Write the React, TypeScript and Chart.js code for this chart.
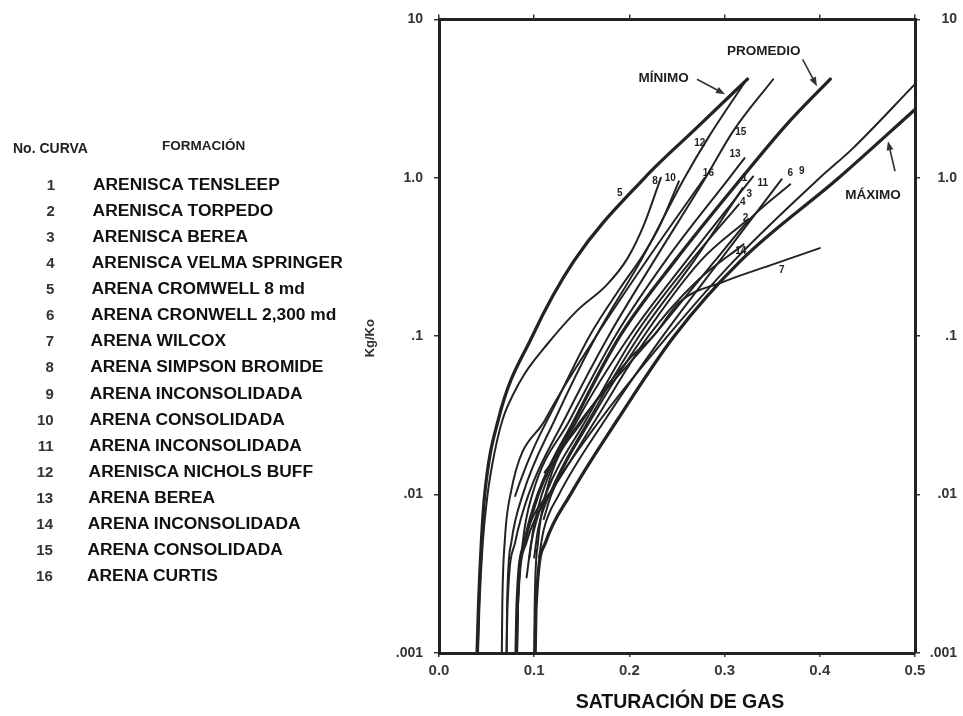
import { useEffect, useRef } from "react";
import { Chart, registerables } from "chart.js";

Chart.register(...registerables);

type Pt = [number, number];

// Axis ticks
const xTickValues = [0, 0.1, 0.2, 0.3, 0.4, 0.5];
const yTickValues = [0.001, 0.01, 0.1, 1, 10];
const yTickLabels = [".001", ".01", ".1", "1.0", "10"];

// Envelope curves (gas saturation, Kg/Ko)
const minimo: Pt[] = [[0.040, 0.001], [0.0415, 0.002], [0.0445, 0.005], [0.048, 0.01], [0.0625, 0.03], [0.098, 0.1], [0.142, 0.3], [0.216, 1.0], [0.27, 2.05], [0.324, 4.2]];
const promedio: Pt[] = [[0.081, 0.001], [0.082, 0.002], [0.09, 0.005], [0.104, 0.01], [0.143, 0.03], [0.19, 0.1], [0.248, 0.3], [0.318, 1.0], [0.366, 2.2], [0.411, 4.2]];
const maximo: Pt[] = [[0.101, 0.001], [0.102, 0.002], [0.112, 0.005], [0.138, 0.01], [0.188, 0.03], [0.247, 0.1], [0.317, 0.3], [0.42, 1.0], [0.5, 2.7]];

// Individual formation curves
const curve1: Pt[] = [[0.095, 0.004], [0.099, 0.006], [0.108, 0.01], [0.146, 0.03], [0.2, 0.1], [0.26, 0.3], [0.33, 1.02]];
const curve2: Pt[] = [[0.11, 0.007], [0.118, 0.01], [0.16, 0.03], [0.215, 0.1], [0.275, 0.3], [0.325, 0.55]];
const curve3: Pt[] = [[0.1, 0.004], [0.104, 0.006], [0.116, 0.01], [0.158, 0.03], [0.21, 0.1], [0.268, 0.3], [0.319, 0.86]];
const curve4: Pt[] = [[0.092, 0.003], [0.097, 0.005], [0.112, 0.01], [0.155, 0.03], [0.205, 0.1], [0.265, 0.3], [0.315, 0.68]];
const curve6: Pt[] = [[0.111, 0.0138], [0.125, 0.018], [0.15, 0.03], [0.225, 0.1], [0.29, 0.3], [0.328, 0.56], [0.369, 0.91]];
const curve7: Pt[] = [[0.1, 0.001], [0.1005, 0.002], [0.104, 0.005], [0.112, 0.01], [0.152, 0.03], [0.2, 0.072], [0.225, 0.1], [0.253, 0.165], [0.30, 0.222], [0.35, 0.283], [0.40, 0.36]];
const curve8: Pt[] = [[0.041, 0.001], [0.0425, 0.002], [0.046, 0.005], [0.051, 0.01], [0.058, 0.018], [0.067, 0.03], [0.078, 0.043], [0.09, 0.058], [0.113, 0.088], [0.145, 0.145], [0.176, 0.21], [0.198, 0.31], [0.215, 0.5], [0.233, 1.0]];
const curve9: Pt[] = [[0.082, 0.001], [0.083, 0.002], [0.092, 0.005], [0.116, 0.01], [0.17, 0.03], [0.24, 0.1], [0.31, 0.3], [0.40, 1.0], [0.435, 1.54], [0.5, 3.9]];
const curve10: Pt[] = [[0.08, 0.0098], [0.085, 0.012], [0.1, 0.02], [0.12, 0.035], [0.158, 0.1], [0.19, 0.2], [0.215, 0.33], [0.232, 0.5], [0.252, 0.95]];
const curve11: Pt[] = [[0.105, 0.004], [0.11, 0.006], [0.126, 0.01], [0.175, 0.03], [0.235, 0.1], [0.295, 0.3], [0.36, 0.98]];
const curve12: Pt[] = [[0.071, 0.001], [0.0715, 0.002], [0.076, 0.005], [0.088, 0.01], [0.122, 0.03], [0.165, 0.1], [0.212, 0.3], [0.258, 1.0], [0.283, 1.8], [0.321, 4.0]];
const curve13: Pt[] = [[0.082, 0.001], [0.083, 0.002], [0.088, 0.005], [0.098, 0.01], [0.138, 0.03], [0.185, 0.1], [0.238, 0.3], [0.305, 1.0], [0.321, 1.33]];
const curve14: Pt[] = [[0.088, 0.005], [0.1, 0.0075], [0.12, 0.011], [0.165, 0.03], [0.22, 0.1], [0.27, 0.22], [0.32, 0.38]];
const curve15: Pt[] = [[0.071, 0.001], [0.072, 0.002], [0.08, 0.005], [0.094, 0.01], [0.132, 0.03], [0.178, 0.1], [0.226, 0.3], [0.28, 1.0], [0.309, 1.97], [0.351, 4.19]];
const curve16: Pt[] = [[0.066, 0.001], [0.0665, 0.002], [0.069, 0.005], [0.075, 0.01], [0.112, 0.03], [0.165, 0.1], [0.218, 0.3], [0.279, 1.0]];

const thinCurves: Pt[][] = [curve1, curve2, curve3, curve4, curve6, curve7, curve8, curve9, curve10, curve11, curve12, curve13, curve14, curve15, curve16];
const thickCurves: Pt[][] = [minimo, promedio, maximo];

// Curve number tags placed on the plot (Sg, Kg/Ko)
const tagText = ["5", "8", "10", "12", "15", "16", "13", "1", "11", "6", "9", "3", "4", "2", "14", "7"];
const tagX = [0.190, 0.227, 0.243, 0.274, 0.317, 0.283, 0.311, 0.321, 0.340, 0.369, 0.381, 0.326, 0.319, 0.322, 0.317, 0.360];
const tagY = [0.80, 0.954, 0.996, 1.66, 1.94, 1.07, 1.41, 0.996, 0.927, 1.07, 1.10, 0.79, 0.70, 0.558, 0.346, 0.262];

// Envelope names and their pointer arrows
const envText = ["MÍNIMO", "PROMEDIO", "MÁXIMO"];
const envX = [0.236, 0.341, 0.456];
const envY = [4.25, 6.29, 0.77];
const arrowFrom: Pt[] = [[0.271, 4.19], [0.382, 5.6], [0.479, 1.10]];
const arrowTo: Pt[] = [[0.3004, 3.37], [0.397, 3.79], [0.4716, 1.70]];

// Legend table
const curveNumbers = ["1", "2", "3", "4", "5", "6", "7", "8", "9", "10", "11", "12", "13", "14", "15", "16"];
const formations = [
  "ARENISCA TENSLEEP",
  "ARENISCA TORPEDO",
  "ARENISCA BEREA",
  "ARENISCA VELMA SPRINGER",
  "ARENA CROMWELL 8 md",
  "ARENA CRONWELL 2,300 md",
  "ARENA WILCOX",
  "ARENA SIMPSON BROMIDE",
  "ARENA INCONSOLIDADA",
  "ARENA CONSOLIDADA",
  "ARENA INCONSOLIDADA",
  "ARENISCA NICHOLS BUFF",
  "ARENA BEREA",
  "ARENA INCONSOLIDADA",
  "ARENA CONSOLIDADA",
  "ARENA CURTIS",
];

const FONT = "'Liberation Sans', Arial, Helvetica, sans-serif";
const INK = "#232323";

const annotations = {
  id: "annotations",
  afterDatasetsDraw(chart: any) {
    const { ctx, chartArea } = chart;
    const xs = chart.scales.x;
    const ys = chart.scales.y;
    const px = (v: number) => xs.getPixelForValue(v);
    const py = (v: number) => ys.getPixelForValue(v);
    ctx.save();
    ctx.fillStyle = "#1e1e1e";
    ctx.textAlign = "center";
    ctx.textBaseline = "middle";

    ctx.font = `bold 10px ${FONT}`;
    tagText.forEach((t, i) => ctx.fillText(t, px(tagX[i]), py(tagY[i])));

    ctx.font = `bold 13.5px ${FONT}`;
    envText.forEach((t, i) => ctx.fillText(t, px(envX[i]), py(envY[i])));

    ctx.strokeStyle = "#333";
    ctx.fillStyle = "#333";
    ctx.lineWidth = 1.6;
    arrowFrom.forEach((f, i) => {
      const x0 = px(f[0]), y0 = py(f[1]);
      const x1 = px(arrowTo[i][0]), y1 = py(arrowTo[i][1]);
      const a = Math.atan2(y1 - y0, x1 - x0);
      const len = 9, half = 3.5;
      ctx.beginPath();
      ctx.moveTo(x0, y0);
      ctx.lineTo(x1 - Math.cos(a) * len * 0.8, y1 - Math.sin(a) * len * 0.8);
      ctx.stroke();
      ctx.beginPath();
      ctx.moveTo(x1, y1);
      ctx.lineTo(x1 - Math.cos(a) * len - Math.sin(a) * half, y1 - Math.sin(a) * len + Math.cos(a) * half);
      ctx.lineTo(x1 - Math.cos(a) * len + Math.sin(a) * half, y1 - Math.sin(a) * len - Math.cos(a) * half);
      ctx.closePath();
      ctx.fill();
    });

    ctx.fillStyle = "#111";
    ctx.font = `bold 19.5px ${FONT}`;
    ctx.fillText("SATURACIÓN DE GAS", (chartArea.left + chartArea.right) / 2 + 3, chartArea.bottom + 50);

    ctx.fillStyle = "#333";
    ctx.font = `bold 13px ${FONT}`;
    ctx.translate(chartArea.left - 69, (chartArea.top + chartArea.bottom) / 2 + 2);
    ctx.rotate(-Math.PI / 2);
    ctx.fillText("Kg/Ko", 0, 0);
    ctx.restore();
  },
};

const yTickLabel = (value: number) => {
  const i = yTickValues.findIndex((v) => Math.abs(v - value) / v < 1e-6);
  return i >= 0 ? yTickLabels[i] : "";
};

export default function App() {
  const canvasRef = useRef<HTMLCanvasElement | null>(null);

  useEffect(() => {
    if (!canvasRef.current) return;
    const line = (pts: Pt[], width: number) => ({
      data: pts.map(([x, y]) => ({ x, y })),
      borderColor: INK,
      borderWidth: width,
      pointRadius: 0,
      fill: false,
      cubicInterpolationMode: "monotone" as const,
      borderCapStyle: "round" as const,
      borderJoinStyle: "round" as const,
    });
    const datasets = [
      ...thinCurves.map((c) => line(c, 2)),
      ...thickCurves.map((c) => line(c, 3.3)),
    ];

    const tickFont = { family: FONT, size: 14, weight: "bold" as const };
    const decadeTicks = (scale: any) => {
      scale.ticks = yTickValues.map((v) => ({ value: v }));
    };

    const chart = new Chart(canvasRef.current, {
      type: "line",
      data: { datasets },
      plugins: [annotations],
      options: {
        animation: false,
        responsive: false,
        events: [],
        layout: { padding: { left: 0, top: 0, bottom: 0, right: 6 } },
        plugins: { legend: { display: false }, tooltip: { enabled: false } },
        scales: {
          x: {
            type: "linear",
            position: "bottom",
            min: 0,
            max: 0.5,
            afterBuildTicks: (s: any) => {
              s.ticks = xTickValues.map((v) => ({ value: v }));
            },
            ticks: {
              callback: (v: any) => Number(v).toFixed(1),
              font: { family: FONT, size: 15, weight: "bold" },
              color: "#3a3a3a",
              padding: 5,
              maxRotation: 0,
            },
            grid: { drawOnChartArea: false, drawTicks: true, tickLength: 4, color: "#333", lineWidth: 1.5 },
            border: { display: true, width: 3, color: "#222" },
            afterFit: (s: any) => {
              s.height = 63;
            },
          },
          x2: {
            type: "linear",
            position: "top",
            min: 0,
            max: 0.5,
            afterBuildTicks: (s: any) => {
              s.ticks = xTickValues.map((v) => ({ value: v }));
            },
            ticks: { display: false },
            grid: { drawOnChartArea: false, drawTicks: true, tickLength: 5, color: "#333", lineWidth: 1.5 },
            border: { display: true, width: 3, color: "#222" },
            afterFit: (s: any) => {
              s.height = 18;
            },
          },
          y: {
            type: "logarithmic",
            position: "left",
            min: 0.001,
            max: 10,
            afterBuildTicks: decadeTicks,
            ticks: { callback: (v: any) => yTickLabel(Number(v)), font: tickFont, color: "#333", padding: 11 },
            grid: { drawOnChartArea: false, drawTicks: true, tickLength: 5, color: "#333", lineWidth: 1.5 },
            border: { display: true, width: 3, color: "#222" },
            afterFit: (s: any) => {
              s.width = 439;
            },
          },
          y2: {
            type: "logarithmic",
            position: "right",
            min: 0.001,
            max: 10,
            afterBuildTicks: decadeTicks,
            ticks: { callback: (v: any) => yTickLabel(Number(v)), font: tickFont, color: "#333", padding: 4, crossAlign: "far" },
            grid: { drawOnChartArea: false, drawTicks: true, tickLength: 5, color: "#333", lineWidth: 1.5 },
            border: { display: true, width: 3, color: "#222" },
            afterFit: (s: any) => {
              s.width = 42;
            },
          },
        },
      } as any,
    });
    return () => chart.destroy();
  }, []);

  const rowTop = 184;
  const rowGap = 26.07;

  return (
    <div style={{ position: "absolute", left: 0, top: 0, width: 963, height: 716, background: "#fff", overflow: "hidden" }}>
      <canvas ref={canvasRef} width={963} height={716} style={{ position: "absolute", left: 0, top: 0, width: 963, height: 716 }} />
      <div style={{ position: "absolute", left: 13, top: 148, transform: "translateY(-50%)", font: `bold 14px ${FONT}`, color: "#222", whiteSpace: "nowrap" }}>
        No. CURVA
      </div>
      <div style={{ position: "absolute", left: 162, top: 145, transform: "translateY(-50%)", font: `bold 13.5px ${FONT}`, color: "#222", whiteSpace: "nowrap" }}>
        FORMACIÓN
      </div>
      {curveNumbers.map((n, i) => (
        <div
          key={"n" + n}
          style={{ position: "absolute", left: 0, width: 55 - i * 0.15, textAlign: "right", top: rowTop + i * rowGap, transform: "translateY(-50%)", font: `bold 15px ${FONT}`, color: "#333", whiteSpace: "nowrap" }}
        >
          {n}
        </div>
      ))}
      {formations.map((f, i) => (
        <div
          key={"f" + i}
          style={{ position: "absolute", left: 93 - i * 0.4, top: rowTop + i * rowGap, transform: "translateY(-50%)", font: `bold 17.4px ${FONT}`, color: "#111", whiteSpace: "nowrap" }}
        >
          {f}
        </div>
      ))}
    </div>
  );
}
